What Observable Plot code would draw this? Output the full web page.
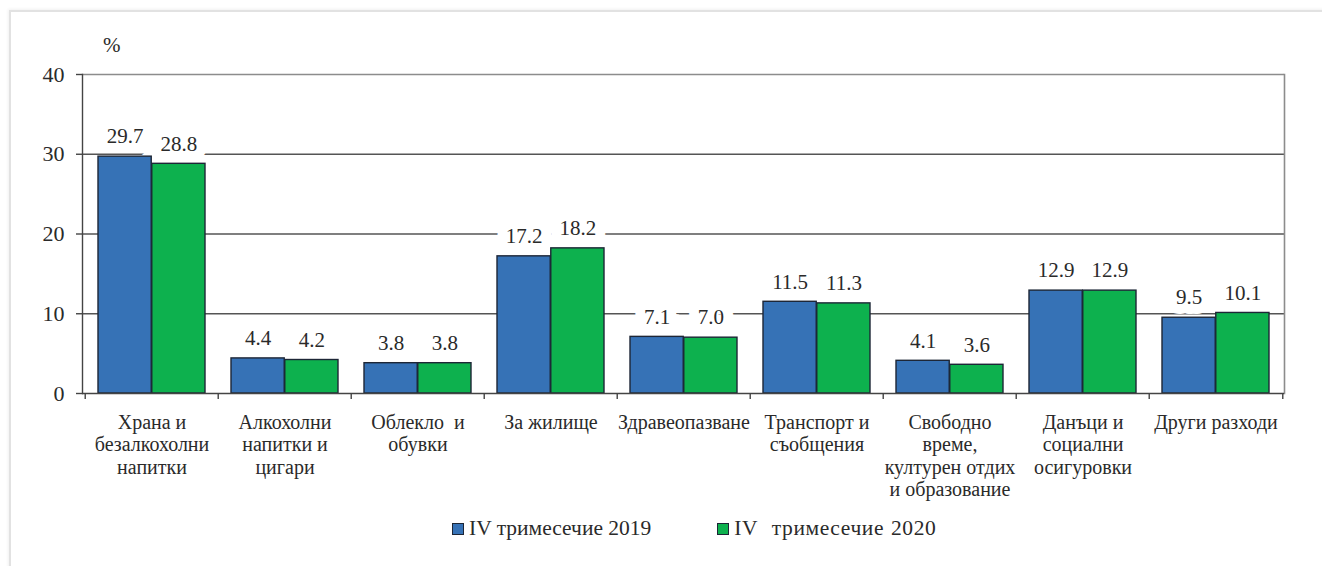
<!DOCTYPE html>
<html>
<head>
<meta charset="utf-8">
<script src="https://cdn.jsdelivr.net/npm/d3@7"></script>
<script src="https://cdn.jsdelivr.net/npm/@observablehq/plot@0.6"></script>
<style>
  html, body { margin: 0; padding: 0; background: #fff; }
  body { width: 1322px; height: 566px; overflow: hidden; position: relative; font-family: "Liberation Serif", "Times New Roman", serif; color: #2a2a2a; }
  #border { position: absolute; left: 9px; top: 10px; width: 1330px; height: 580px; border-left: 2px solid #e2e2e2; border-top: 2px solid #e2e2e2; box-shadow: -1px -1px 3px rgba(0,0,0,0.06); }
  #chart { position: absolute; left: 0; top: 0; }
  #chart svg, #chart svg text { font-family: "Liberation Serif", "Times New Roman", serif !important; }
  #unit { position: absolute; left: 103px; top: 33px; font-size: 21px; }
  #legend { position: absolute; left: 452px; top: 516px; display: flex; align-items: center; font-size: 21.5px; white-space: pre; }
  .item { display: flex; align-items: center; }
  .sw { width: 10px; height: 10px; border: 1px solid #1d2636; margin-right: 5px; }
</style>
</head>
<body>
<div id="border"></div>
<div id="chart"></div>
<div id="unit">%</div>
<div id="legend"></div>
<script>
const categories = [
  "Храна и\nбезалкохолни\nнапитки",
  "Алкохолни\nнапитки и\nцигари",
  "Облекло  и\nобувки",
  "За жилище",
  "Здравеопазване",
  "Транспорт и\nсъобщения",
  "Свободно\nвреме,\nкултурен отдих\nи образование",
  "Данъци и\nсоциални\nосигуровки",
  "Други разходи"
];
const seriesNames = ["IV тримесечие 2019", "IV  тримесечие 2020"];
const values2019 = [29.7, 4.4, 3.8, 17.2, 7.1, 11.5, 4.1, 12.9, 9.5];
const values2020 = [28.8, 4.2, 3.8, 18.2, 7.0, 11.3, 3.6, 12.9, 10.1];
const yTicks = [0, 10, 20, 30, 40];
const colors = ["#3672b6", "#0db14e"];

const rows = categories.map((c, i) => ({category: c, v2019: values2019[i], v2020: values2020[i]}));

const width = 1322, height = 503;
const mL = 82, mR = 38, mT = 74, mB = 110;
const bw = (width - mL - mR) / categories.length;
const outer = 13;
const half = bw / 2;
const barW = half - outer;
const off = outer + barW / 2 - half; // label offset for left bar

const serif = '"Liberation Serif", "Times New Roman", serif';
const fmt = d => d.toFixed(1);
const valueFont = 21;

const chart = Plot.plot({
  width, height,
  marginLeft: mL, marginRight: mR, marginTop: mT, marginBottom: mB,
  style: {fontFamily: serif, fontSize: "20px", color: "#2a2a2a", background: "transparent"},
  x: {domain: categories, padding: 0},
  y: {domain: [0, 40]},
  marks: [
    Plot.ruleY(yTicks.filter(d => d > 0 && d < 40), {stroke: "#555", strokeWidth: 1.4}),
    Plot.ruleY([40], {stroke: "#8c8c8c", strokeWidth: 1.6}),
    Plot.frame({anchor: "right", stroke: "#8c8c8c", strokeWidth: 1.6}),
    // white boxes behind value labels
    Plot.text(rows, {x: "category", y: "v2019", text: d => fmt(d.v2019), dx: off, dy: -20, fontFamily: serif, fontSize: valueFont, fill: "white", stroke: "white", strokeWidth: 20, strokeLinejoin: "miter"}),
    Plot.text(rows, {x: "category", y: "v2020", text: d => fmt(d.v2020), dx: -off, dy: -20, fontFamily: serif, fontSize: valueFont, fill: "white", stroke: "white", strokeWidth: 20, strokeLinejoin: "miter"}),
    Plot.barY(rows, {x: "category", y: "v2019", fill: colors[0], stroke: "#1d2636", strokeWidth: 1.4, insetLeft: outer, insetRight: half}),
    Plot.barY(rows, {x: "category", y: "v2020", fill: colors[1], stroke: "#1d2636", strokeWidth: 1.4, insetLeft: half, insetRight: outer}),
    Plot.text(rows, {x: "category", y: "v2019", text: d => fmt(d.v2019), dx: off, dy: -20, fontFamily: serif, fontSize: valueFont, fill: "#2a2a2a"}),
    Plot.text(rows, {x: "category", y: "v2020", text: d => fmt(d.v2020), dx: -off, dy: -20, fontFamily: serif, fontSize: valueFont, fill: "#2a2a2a"}),
    Plot.frame({anchor: "left", stroke: "#444", strokeWidth: 1.4}),
    Plot.ruleY([0], {stroke: "#444", strokeWidth: 1.4}),
    // category boundary ticks
    Plot.ruleX(categories, {x: d => d, dx: -half, y1: 0, y2: 0, insetBottom: -6, stroke: "#444", strokeWidth: 1.4}),
    Plot.ruleX(categories.slice(-1), {x: d => d, dx: half, y1: 0, y2: 0, insetBottom: -6, stroke: "#444", strokeWidth: 1.4}),
    Plot.axisY(yTicks, {tickSize: 6, tickPadding: 12, fontFamily: serif, fontSize: 22, label: null, stroke: "#444", strokeWidth: 1.4}),
    Plot.axisX({tickSize: 0, tickPadding: 19, lineHeight: 1.13, fontFamily: serif, fontSize: 20, label: null})
  ]
});
document.getElementById("chart").appendChild(chart);

const legend = document.getElementById("legend");
seriesNames.forEach((name, i) => {
  const item = document.createElement("div");
  item.className = "item";
  if (i > 0) { item.style.marginLeft = "66px"; item.style.wordSpacing = "1px"; item.style.letterSpacing = "0.6px"; }
  const sw = document.createElement("div");
  sw.className = "sw";
  sw.style.background = colors[i];
  const t = document.createElement("span");
  t.textContent = name;
  item.appendChild(sw);
  item.appendChild(t);
  legend.appendChild(item);
});
</script>
</body>
</html>
